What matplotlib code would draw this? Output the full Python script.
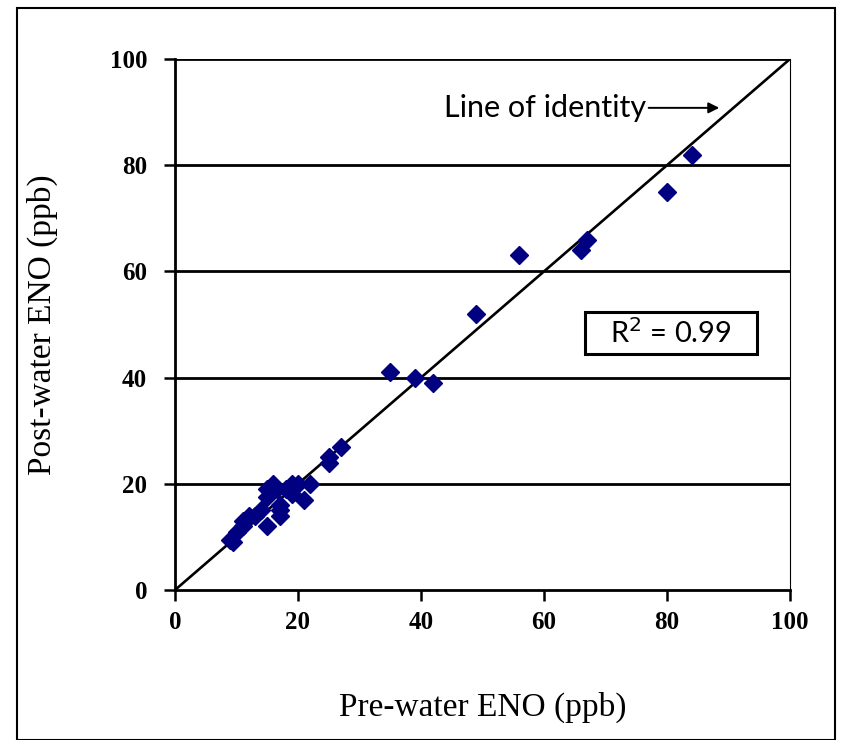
import matplotlib
matplotlib.use("Agg")
import matplotlib.pyplot as plt
from matplotlib.patches import Rectangle

pre_water = [84, 80, 67, 66, 56, 49, 35, 39, 42, 27, 25, 25,
             16, 15, 16.6, 19, 20, 22, 21, 19, 17, 17, 17, 15, 13, 12, 11, 14, 10, 9, 9.5, 11, 15, 18]
post_water = [82, 75, 66, 64, 63, 52, 41, 40, 39, 27, 25, 24,
              20, 19, 19, 20, 20, 20, 17, 18, 16, 15, 14, 12, 14, 14, 13, 15, 11, 9.5, 9, 12, 17.5, 19]

x_ticks = [0, 20, 40, 60, 80, 100]
y_ticks = [0, 20, 40, 60, 80, 100]

fig = plt.figure(figsize=(8.5, 7.4), dpi=100)
fig.patches.append(Rectangle((17/850, 0), (835-17)/850, 1 - 8/740, transform=fig.transFigure,
                             fill=False, edgecolor='black', linewidth=1.5))
ax = fig.add_axes([175/850, 1 - 590/740, (790-175)/850, (590-59)/740])

for yv in y_ticks[1:]:
    ax.axhline(yv, color='black', linewidth=2.0, zorder=1)
ax.plot([0, 100], [0, 100], color='black', linewidth=1.9, zorder=2)
ax.plot(pre_water, post_water, linestyle='none', marker='D', markersize=9,
        color='#000080', markeredgecolor='#000080', zorder=3)

ax.set_xlim(0, 100)
ax.set_ylim(0, 100)
ax.set_xticks(x_ticks)
ax.set_yticks(y_ticks)
serif = 'Liberation Serif'
ax.set_xticklabels([str(v) for v in x_ticks], fontfamily=serif, fontweight='bold', fontsize=18)
ax.set_yticklabels([str(v) for v in y_ticks], fontfamily=serif, fontweight='bold', fontsize=18)
ax.tick_params(axis='x', direction='out', length=8, width=1.8, pad=7)
ax.tick_params(axis='y', direction='out', length=8, width=1.8, pad=12)
ax.spines['top'].set_visible(False)
ax.spines['right'].set_linewidth(0.8)
ax.spines['left'].set_linewidth(2.0)
ax.spines['bottom'].set_linewidth(2.0)

ax.set_xlabel('Pre-water ENO (ppb)', fontfamily=serif, fontsize=24, labelpad=42)
ax.set_ylabel('Post-water ENO (ppb)', fontfamily=serif, fontsize=24, labelpad=37)

ax.annotate('Line of identity', xy=(88.5, 90.8), xytext=(43.7, 90.8),
            fontfamily='Lato', fontsize=22, va='center', ha='left',
            arrowprops=dict(arrowstyle='-|>', color='black', lw=1.4, mutation_scale=16,
                            shrinkA=0, shrinkB=0))

ax.add_patch(Rectangle((66.7, 44.4), 27.9, 8.0, fill=False, edgecolor='black',
                       linewidth=2.2, zorder=4))
ax.text(80.6, 48.4, r'R$^2$ = 0.99', fontfamily='Lato', fontsize=21,
        ha='center', va='center', zorder=5)

fig.savefig('out.png', dpi=100)
